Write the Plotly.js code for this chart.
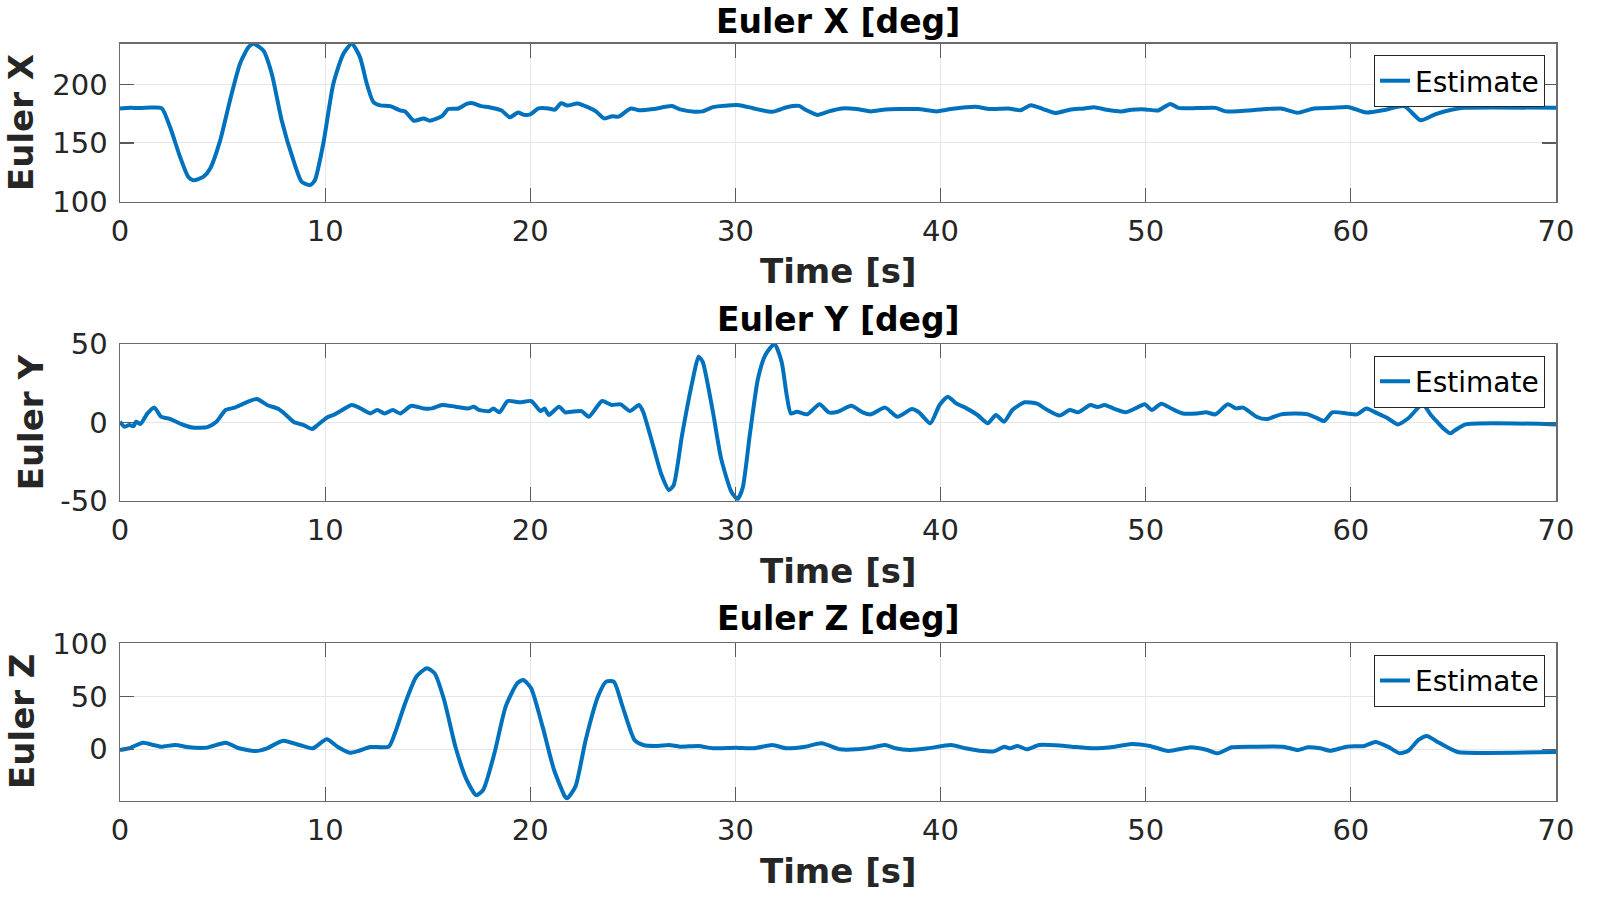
<!DOCTYPE html>
<html>
<head>
<meta charset="utf-8">
<script src="https://cdn.plot.ly/plotly-3.0.1.min.js"></script>
<style>
  html, body { margin: 0; padding: 0; background: #ffffff; }
  #chart { width: 1597px; height: 902px; }
</style>
</head>
<body>
<div id="chart"></div>
<script>
// Euler X estimate (time [s], deg)
const tX = [0, 0.5, 1.0, 1.5, 2.03, 2.44, 2.93, 3.33, 3.58, 4.06, 4.39, 4.88, 5.36, 5.85, 6.26, 6.5, 6.99,
  7.4, 7.88, 8.45, 8.86, 9.27, 9.5, 9.91, 10.4, 10.89, 11.3, 11.7, 12.03, 12.35, 12.68, 13.17, 13.65,
  13.9, 14.33, 14.8, 15.1, 15.7, 16.0, 16.5, 16.9, 17.2, 17.6, 18.0, 18.6, 19.0, 19.4, 19.7, 20.0,
  20.4, 20.9, 21.2, 21.5, 21.8, 22.3, 22.8, 23.2, 23.6, 24.0, 24.3, 24.9, 25.3, 26.0, 26.9, 27.3,
  28.0, 28.4, 28.9, 29.8, 30.2, 30.9, 31.8, 32.5, 33.1, 33.4, 34.0, 34.55, 35.2, 35.9, 36.6, 37.3,
  38.1, 38.9, 39.8, 40.5, 41.7, 42.4, 43.3, 43.9, 44.4, 45.0, 45.6, 46.3, 47.0, 47.5, 48.1, 48.8,
  49.3, 50.0, 50.6, 51.2, 51.6, 52.5, 53.4, 53.9, 54.8, 55.9, 56.6, 57.4, 58.2, 59.1, 59.9, 60.75,
  61.7, 62.6, 63.4, 64.1, 64.9, 65.5, 70];
const eulerX = [179.5, 180, 179.8, 180.3, 179.7, 163.6, 138, 121, 118.2, 121, 128, 152, 186.4, 217.7, 231.8, 234.7, 229,
  209, 169.4, 135.3, 116.8, 114, 118.2, 149.5, 200.6, 226.2, 234.7, 223.3, 200.6, 185, 182.1, 181.5, 177.9,
  177, 169, 171, 169, 173, 179, 179.5, 183.4, 184, 181.5, 180.6, 177.8, 172, 176, 174, 174.4,
  179.5, 179.5, 178.5, 184, 182, 183.7, 180.6, 177, 171, 172.8, 172.5, 179.5, 178, 179, 181.5, 178.7,
  176.7, 177, 180.6, 182.3, 182.3, 179.5, 176.7, 180.6, 181.7, 178.5, 174, 177, 179.5, 179, 177, 178.7,
  179, 179, 177, 179, 181, 179, 179.5, 178, 182.3, 179, 175.6, 178.4, 179.5, 180.6, 178.4, 177,
  178.4, 178.7, 177.8, 183.4, 180, 179.8, 180, 177, 177.5, 179, 179.5, 175.8, 179.5, 180, 180.6, 176,
  178.4, 181.5, 169.4, 174.4, 178.4, 180, 180];

// Euler Y estimate
const tY = [0, 0.22, 0.45, 0.67, 0.78, 1.0, 1.34, 1.68, 2.0, 2.46, 2.8, 3.1, 3.58, 4.25, 4.7, 5.15, 5.6,
  6.05, 6.67, 7.17, 7.73, 8.06, 8.5, 8.96, 9.36, 9.63, 10.08, 10.4, 10.75, 11.3, 11.65, 12.2, 12.54,
  12.9, 13.3, 13.66, 14.2, 14.8, 15.2, 15.7, 16.35, 17.0, 17.25, 17.5, 18.0, 18.2, 18.5, 18.9, 19.5,
  20.05, 20.5, 20.7, 20.9, 21.4, 21.7, 22.0, 22.5, 22.85, 23.5, 23.96, 24.4, 24.86, 25.3, 25.5, 25.98,
  26.4, 26.76, 26.99, 27.4, 27.9, 28.2, 28.4, 28.9, 29.3, 29.8, 30.1, 30.35, 30.7, 31.1, 31.46, 31.9,
  32.25, 32.5, 32.7, 33.0, 33.5, 34.1, 34.55, 35.0, 35.65, 36.2, 36.6, 37.3, 37.9, 38.6, 38.95, 39.5,
  39.95, 40.35, 40.76, 41.2, 41.8, 42.3, 42.7, 43.1, 43.5, 44.1, 44.7, 45.2, 45.8, 46.3, 46.7, 47.3,
  47.65, 48.0, 48.5, 49.0, 49.5, 49.95, 50.3, 50.76, 51.3, 51.8, 52.5, 52.95, 53.4, 54.0, 54.4, 54.75,
  55.4, 55.9, 56.6, 57.3, 57.9, 58.3, 58.7, 59.1, 59.8, 60.3, 60.75, 61.3, 61.8, 62.3, 62.8, 63.5,
  63.9, 64.2, 64.55, 64.85, 65.1, 65.6, 70];
const eulerY = [0.4, -2.8, -1.7, -2.3, 0.4, -1, 5.7, 9.4, 3.6, 2.1, 0, -1.7, -3.4, -3, 0.4, 7.9, 9.4,
  12.1, 14.9, 11.1, 8.5, 5.1, 0, -1.7, -4.3, -1.7, 3, 4.7, 7.2, 11.1, 9.4, 5.7, 7.9,
  5.7, 7.9, 5.7, 10.6, 8.9, 8.9, 11.1, 10, 8.9, 10, 7.9, 7.2, 8.9, 6.4, 13.6, 12.8,
  13.6, 7.2, 8.9, 4.7, 10, 6.4, 6.8, 7.2, 3.6, 13.6, 11.1, 11.5, 7.2, 11.1, 6.8, -14.5,
  -33.6, -43.2, -40, -8, 26, 41.9, 38.7, 6.8, -23, -44.3, -49, -42, -8, 28, 43, 50,
  38.7, 17.4, 5.7, 6.8, 5.1, 11.5, 6.4, 6.8, 10.6, 6.4, 5.1, 9.4, 3.6, 8.5, 6.4, -0.6,
  11.1, 16.4, 12.1, 9.4, 4.7, -0.6, 4.7, 0.4, 7.9, 12.8, 11.9, 7.9, 4.3, 7.9, 6.4, 11.1,
  9.8, 11.1, 8.5, 6.4, 8.9, 11.5, 7.9, 11.9, 8.5, 5.7, 5.7, 6.4, 5.1, 11.5, 8.9, 9.4,
  3.6, 2.1, 5.1, 5.7, 5.1, 3, 0.9, 6.4, 5.7, 5.1, 8.9, 5.7, 2.6, -1.3, 2.6, 11.5,
  4.7, 0.4, -4.3, -7, -4.9, -1.3, -1.3];

// Euler Z estimate
const tZ = [0, 0.45, 1.12, 1.57, 2.0, 2.7, 3.36, 4.25, 5.15, 5.8, 6.6, 7.17, 7.95, 8.73, 9.4, 10.08, 10.6,
  11.2, 11.65, 12.2, 13.1, 13.4, 13.9, 14.45, 14.96, 15.34, 15.8, 16.35, 16.9, 17.36, 17.7, 18.25, 18.8,
  19.37, 19.66, 20.04, 20.6, 21.16, 21.7, 21.8, 22.2, 22.7, 23.3, 23.7, 24.07, 24.5, 25.08, 25.5, 26.2,
  26.76, 27.3, 28.2, 28.9, 30.0, 30.9, 31.8, 32.5, 33.4, 34.2, 35.1, 35.9, 36.6, 37.3, 37.8, 38.5,
  39.4, 40.5, 41.2, 41.9, 42.6, 43.1, 43.4, 43.75, 44.2, 44.8, 45.6, 46.4, 47.4, 48.5, 49.3, 50.2,
  51.1, 52.2, 53.0, 53.5, 54.2, 55.3, 56.7, 57.4, 57.9, 58.5, 59.0, 59.8, 60.65, 61.2, 61.8, 62.4,
  62.8, 63.3, 63.7, 64.2, 64.8, 65.2, 70];
const eulerZ = [-0.6, 1, 6.3, 4.4, 2.5, 4.1, 1.9, 1.6, 6.3, 1, -1.6, 1, 8.2, 4.1, 1, 9.5, 2.5,
  -3.2, -1.3, 2.2, 2.5, 15.2, 43.7, 69, 76.9, 72, 46.8, 2.5, -29, -43.4, -38.6, -3.8, 40.5,
  62.7, 65.8, 57.9, 21.5, -19.6, -45, -46.5, -35.4, 8.9, 50, 64.2, 64.2, 40.5, 8.9, 4.1, 3.2,
  4.1, 2.5, 3.2, 1, 1.6, 1, 4.1, 1, 2.5, 5.7, 0, 0, 1.6, 4.1, 1, -0.6,
  1, 4.1, 1, -1.3, -1.9, 2.5, 1, 3.2, 0, 4.1, 3.8, 2.5, 1, 2.5, 5.1, 3.2,
  -1.6, 1.9, -0.6, -3.8, 1.9, 2.5, 2.5, -0.6, 1.9, 1, -1.3, 2.5, 3.2, 7, 2.5, -3.8,
  -1.3, 8.9, 12.7, 7.3, 1, -2.5, -2.5];

// axes
const xTicks = [0, 10, 20, 30, 40, 50, 60, 70];
const yTicksX = [100, 150, 200];
const yTicksY = [-50, 0, 50];
const yTickTextY = ['-50', '0', '50'];
const yTicksZ = [0, 50, 100];

const panelTitles = ['Euler X [deg]', 'Euler Y [deg]', 'Euler Z [deg]'];
const yLabels = ['Euler X', 'Euler Y', 'Euler Z'];
const xLabel = 'Time [s]';
const seriesName = 'Estimate';

const W = 1597, H = 902;
const LINE_COLOR = '#0072BD';
const TEXT_COLOR = '#262626';
const FONT = 'DejaVu Sans, Liberation Sans, sans-serif';

// panel geometry in pixels: [top, bottom]
const panels = [[43.5, 201.5], [344, 500.7], [643.3, 800.5]];
const xDomain = [120 / W, 1556 / W];

function yDomain(p) {
  return [1 - p[1] / H, 1 - p[0] / H];
}

function makeTrace(t, v, idx) {
  const suffix = idx === 0 ? '' : String(idx + 1);
  return {
    type: 'scatter',
    mode: 'lines',
    x: t,
    y: v,
    name: seriesName,
    xaxis: 'x' + suffix,
    yaxis: 'y' + suffix,
    legend: 'legend' + suffix,
    line: { color: LINE_COLOR, width: 4, shape: 'spline', smoothing: 0.6 },
    hoverinfo: 'x+y'
  };
}

function xAxis(idx) {
  return {
    domain: xDomain,
    anchor: 'y' + (idx === 0 ? '' : idx + 1),
    range: [0, 70],
    tickvals: xTicks,
    ticks: 'inside',
    ticklen: 14,
    tickwidth: 1.2,
    tickcolor: '#5a5a5a',
    ticklabelstandoff: 3,
    showline: true,
    mirror: 'ticks',
    linecolor: '#6b6b6b',
    linewidth: 1.5,
    showgrid: true,
    gridcolor: '#e6e6e6',
    gridwidth: 1,
    zeroline: false,
    tickfont: { family: FONT, size: 29, color: TEXT_COLOR }
  };
}

function yAxis(idx, range, tickvals, ticktext) {
  const ax = {
    domain: yDomain(panels[idx]),
    anchor: 'x' + (idx === 0 ? '' : idx + 1),
    range: range,
    tickvals: tickvals,
    ticks: 'inside',
    ticklen: 14,
    tickwidth: 1.2,
    tickcolor: '#5a5a5a',
    ticklabelstandoff: 5,
    showline: true,
    mirror: 'ticks',
    linecolor: '#6b6b6b',
    linewidth: 1.5,
    showgrid: true,
    gridcolor: '#e6e6e6',
    gridwidth: 1,
    zeroline: false,
    tickfont: { family: FONT, size: 29, color: TEXT_COLOR }
  };
  if (ticktext) ax.ticktext = ticktext;
  return ax;
}

function legendAt(idx) {
  return {
    x: 1545 / W,
    xanchor: 'right',
    y: 1 - (panels[idx][0] + 11.5) / H,
    yanchor: 'top',
    bgcolor: '#ffffff',
    bordercolor: '#262626',
    borderwidth: 1,
    font: { family: FONT, size: 28, color: '#000000' },
    itemwidth: 30,
    tracegroupgap: 0
  };
}

const annotations = [];
const titleTop = [0, 300.5, 599.8];
const xLabelY = [271, 571, 871];
const yLabelX = [21.5, 31, 22];
const midX = (xDomain[0] + xDomain[1]) / 2;

panels.forEach((p, i) => {
  annotations.push({
    text: '<b>' + panelTitles[i] + '</b>',
    xref: 'paper', yref: 'paper',
    x: midX, y: 1 - titleTop[i] / H,
    xanchor: 'center', yanchor: 'top',
    yshift: i === 0 ? 0 : 3,
    showarrow: false,
    font: { family: FONT, size: 33, color: '#000000' }
  });
  annotations.push({
    text: '<b>' + xLabel + '</b>',
    xref: 'paper', yref: 'paper',
    x: midX, y: 1 - xLabelY[i] / H,
    xanchor: 'center', yanchor: 'middle',
    showarrow: false,
    font: { family: FONT, size: 34, color: TEXT_COLOR }
  });
  annotations.push({
    text: '<b>' + yLabels[i] + '</b>',
    xref: 'paper', yref: 'paper',
    x: yLabelX[i] / W, y: 1 - (p[0] + p[1]) / 2 / H,
    xanchor: 'center', yanchor: 'middle',
    textangle: -90,
    showarrow: false,
    font: { family: FONT, size: 34, color: TEXT_COLOR }
  });
});

const data = [
  makeTrace(tX, eulerX, 0),
  makeTrace(tY, eulerY, 1),
  makeTrace(tZ, eulerZ, 2)
];

const layout = {
  width: W,
  height: H,
  margin: { t: 0, l: 0, r: 0, b: 0 },
  paper_bgcolor: '#ffffff',
  plot_bgcolor: '#ffffff',
  font: { family: FONT, color: TEXT_COLOR },
  showlegend: true,
  xaxis: xAxis(0),
  xaxis2: xAxis(1),
  xaxis3: xAxis(2),
  yaxis: yAxis(0, [100, 235], yTicksX),
  yaxis2: yAxis(1, [-50, 50], yTicksY, yTickTextY),
  yaxis3: yAxis(2, [-48.5, 100.5], yTicksZ),
  legend: legendAt(0),
  legend2: legendAt(1),
  legend3: legendAt(2),
  annotations: annotations
};

Plotly.newPlot('chart', data, layout, { displayModeBar: false, staticPlot: true });
</script>
</body>
</html>
